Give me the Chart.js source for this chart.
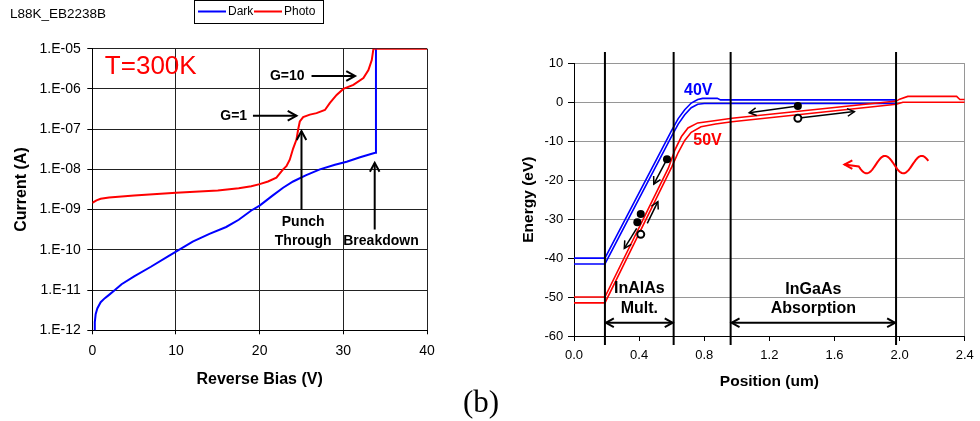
<!DOCTYPE html>
<html>
<head>
<meta charset="utf-8">
<script src="https://cdn.jsdelivr.net/npm/chart.js@4.4.1/dist/chart.umd.min.js"></script>
<style>
body { margin: 0; background: #fff; }
#wrap { position: relative; width: 980px; height: 421px; overflow: hidden; }
#wrap canvas { position: absolute; top: 0; }
#caption { position: absolute; left: 481px; top: 386px; transform: translateX(-50%);
  font: 31px "Liberation Serif", "DejaVu Serif", serif; line-height: 31px; color: #000; }
</style>
</head>
<body>
<div id="wrap">
  <canvas id="ivChart" width="450" height="421" style="left:0"></canvas>
  <canvas id="bandChart" width="510" height="421" style="left:470px"></canvas>
  <div id="caption">(b)</div>
</div>
<script>
// ---- I-V curves ----
const sampleName = 'L88K_EB2238B';
const biasTicks = [0, 10, 20, 30, 40];
const currentTicks = [1e-12, 1e-11, 1e-10, 1e-9, 1e-8, 1e-7, 1e-6, 1e-5];

const darkBias = [0.25, 0.3, 0.4, 0.6, 1.0, 1.5, 2.0, 2.7, 3.5, 5.0, 7.0, 9.0, 10.2, 12.0, 14.0,
  16.0, 17.5, 19.0, 20.0, 21.5, 22.8, 24.0, 25.5, 27.2, 29.0, 30.4, 32.0, 33.8, 33.9, 34.0];
const darkCurrent = [1.0e-12, 1.6e-12, 2.5e-12, 3.5e-12, 5.0e-12, 6.3e-12, 7.6e-12, 1.0e-11, 1.4e-11,
  2.2e-11, 3.8e-11, 6.8e-11, 9.5e-11, 1.6e-10, 2.5e-10, 3.7e-10, 5.6e-10, 9.5e-10, 1.26e-9, 2.2e-9,
  3.5e-9, 5.0e-9, 7.1e-9, 1.0e-8, 1.3e-8, 1.55e-8, 2.0e-8, 2.6e-8, 1.0e-5, 1.0e-5];

const photoBias = [0, 0.5, 1.0, 2.0, 5.0, 10.0, 15.0, 17.5, 19.0, 20.0, 21.0, 22.0, 22.8, 23.2, 23.6,
  24.0, 24.4, 24.6, 24.8, 25.2, 26.0, 26.8, 27.8, 28.4, 29.2, 30.0, 31.2, 32.4, 33.0, 33.4, 33.6, 40];
const photoCurrent = [1.48e-9, 1.7e-9, 1.86e-9, 2.0e-9, 2.24e-9, 2.63e-9, 3.0e-9, 3.4e-9, 3.8e-9,
  4.3e-9, 5.0e-9, 6.2e-9, 1.0e-8, 1.2e-8, 1.74e-8, 3.3e-8, 5.5e-8, 9.8e-8, 1.55e-7, 2.0e-7, 2.3e-7,
  2.5e-7, 3.0e-7, 4.5e-7, 7.1e-7, 1.0e-6, 1.26e-6, 1.86e-6, 2.95e-6, 5.2e-6, 1.0e-5, 1.0e-5];

// ---- band diagram ----
const positionTicks = [0, 0.4, 0.8, 1.2, 1.6, 2.0, 2.4];
const energyTicks = [-60, -50, -40, -30, -20, -10, 0, 10];

const pos40Upper = [0, 0.19, 0.6, 0.64, 0.68, 0.72, 0.76, 0.79, 0.88, 0.9, 1.98];
const e40Upper = [-40, -40, -7.2, -4.2, -1.9, -0.2, 0.7, 1.0, 1.0, 0.6, 0.6];
const pos40Lower = [0, 0.19, 0.6, 0.64, 0.68, 0.72, 0.76, 0.8, 1.98];
const e40Lower = [-41.5, -41.5, -8.7, -5.6, -3.2, -1.4, -0.5, -0.3, -0.3];
const pos50Upper = [0, 0.19, 0.58, 0.62, 0.66, 0.7, 0.76, 0.85, 0.97, 1.98, 2.0, 2.05, 2.35, 2.37, 2.4];
const e50Upper = [-50, -50, -16.85, -12.2, -8.8, -6.6, -5.3, -4.8, -4.1, 0.3, 0.8, 1.5, 1.5, 0.7, 0.7];
const pos50Lower = [0, 0.19, 0.6, 0.64, 0.68, 0.72, 0.78, 0.87, 0.97, 1.98, 2.02, 2.4];
const e50Lower = [-51.5, -51.5, -16.65, -12.9, -9.8, -7.7, -6.3, -5.6, -5.0, -0.5, 0, 0];

const regionEdges = [0.19, 0.612, 0.962, 1.978];
const edgeSpan = [12.9, -62.3];

const electronPos = [1.375, 0.571, 0.41, 0.389];
const electronE = [-0.95, -14.6, -28.7, -30.8];
const holePos = [1.375, 0.41];
const holeE = [-4.1, -33.9];
// x0, e0 -> x1, e1
const carrierArrows = [
  [1.375, -0.95, 1.076, -2.68],
  [1.397, -4.0, 1.722, -2.4],
  [0.571, -14.6, 0.49, -21.0],
  [0.385, -32.4, 0.309, -37.5],
  [0.45, -31.1, 0.515, -25.5]
];
const photonX = [2.176, 1.747, 1.661];
const photonE = -16.0;

const FONT = '"Liberation Sans", Arial, sans-serif';
Chart.defaults.font.family = FONT;
Chart.defaults.color = '#000';

function toPoints(xs, ys) {
  return xs.map((v, i) => ({x: v, y: ys[i]}));
}

function arrowHead(ctx, x1, y1, x2, y2, len) {
  const a = Math.atan2(y2 - y1, x2 - x1);
  ctx.beginPath();
  ctx.moveTo(x2 - len * Math.cos(a - 0.5), y2 - len * Math.sin(a - 0.5));
  ctx.lineTo(x2, y2);
  ctx.lineTo(x2 - len * Math.cos(a + 0.5), y2 - len * Math.sin(a + 0.5));
  ctx.stroke();
}

function arrow(ctx, x1, y1, x2, y2, len, both) {
  ctx.beginPath();
  ctx.moveTo(x1, y1);
  ctx.lineTo(x2, y2);
  ctx.stroke();
  arrowHead(ctx, x1, y1, x2, y2, len);
  if (both) arrowHead(ctx, x2, y2, x1, y1, len);
}

function decadeLabel(v) {
  const e = Math.round(Math.log10(v));
  return '1.E' + (e < 0 ? '-' : '+') + String(Math.abs(e)).padStart(2, '0');
}

const ivNotes = {
  id: 'ivNotes',
  afterDraw(chart) {
    const {ctx, scales: {x, y}} = chart;
    ctx.save();
    ctx.fillStyle = '#000';
    ctx.textBaseline = 'middle';
    ctx.textAlign = 'left';
    ctx.font = '13.5px ' + FONT;
    ctx.fillText(sampleName, 10, 14);

    // legend box
    ctx.strokeStyle = '#000';
    ctx.lineWidth = 1;
    ctx.strokeRect(194.5, 0.5, 129, 23);
    ctx.font = '12px ' + FONT;
    let lx = 198;
    chart.data.datasets.forEach(ds => {
      ctx.strokeStyle = ds.borderColor;
      ctx.lineWidth = 2;
      ctx.beginPath();
      ctx.moveTo(lx, 11.5);
      ctx.lineTo(lx + 28, 11.5);
      ctx.stroke();
      ctx.fillText(ds.label, lx + 30, 11.5);
      lx += 56;
    });

    ctx.fillStyle = '#ff0000';
    ctx.font = '26px ' + FONT;
    ctx.fillText('T=300K', x.getPixelForValue(1.5), y.getPixelForValue(3.5e-6));

    ctx.fillStyle = '#000';
    ctx.strokeStyle = '#000';
    ctx.lineWidth = 2;
    ctx.font = 'bold 14px ' + FONT;
    ctx.textAlign = 'center';
    ctx.fillText('G=10', x.getPixelForValue(23.3), y.getPixelForValue(2.1e-6));
    arrow(ctx, x.getPixelForValue(26.2), y.getPixelForValue(2.1e-6), x.getPixelForValue(31.4), y.getPixelForValue(2.1e-6), 10);
    ctx.fillText('G=1', x.getPixelForValue(16.9), y.getPixelForValue(2.15e-7));
    arrow(ctx, x.getPixelForValue(19.2), y.getPixelForValue(2.15e-7), x.getPixelForValue(24.4), y.getPixelForValue(2.15e-7), 10);

    arrow(ctx, x.getPixelForValue(25.0), y.getPixelForValue(1.0e-9), x.getPixelForValue(25.0), y.getPixelForValue(8.9e-8), 10);
    ctx.fillText('Punch', x.getPixelForValue(25.2), y.getPixelForValue(4.8e-10));
    ctx.fillText('Through', x.getPixelForValue(25.2), y.getPixelForValue(1.66e-10));
    arrow(ctx, x.getPixelForValue(33.75), y.getPixelForValue(3.2e-10), x.getPixelForValue(33.75), y.getPixelForValue(1.45e-8), 10);
    ctx.fillText('Breakdown', x.getPixelForValue(34.5), y.getPixelForValue(1.66e-10));
    ctx.restore();
  }
};

new Chart(document.getElementById('ivChart'), {
  type: 'line',
  data: {
    datasets: [
      {label: 'Dark', data: toPoints(darkBias, darkCurrent), borderColor: '#0000ff', borderWidth: 2, pointRadius: 0, order: 1},
      {label: 'Photo', data: toPoints(photoBias, photoCurrent), borderColor: '#ff0000', borderWidth: 2, pointRadius: 0, order: 0}
    ]
  },
  options: {
    responsive: false,
    animation: false,
    devicePixelRatio: 1,
    layout: {padding: {left: 0, top: 48.7, right: 23, bottom: 0}},
    plugins: {legend: {display: false}, tooltip: {enabled: false}},
    scales: {
      x: {
        type: 'linear', min: 0, max: 40,
        afterBuildTicks: s => { s.ticks = biasTicks.map(v => ({value: v})); },
        afterFit: s => { s.height = 90.7; },
        grid: {color: '#222', lineWidth: 1, tickLength: 4, tickColor: '#000'},
        border: {color: '#000', width: 1},
        ticks: {font: {size: 14}, padding: 8.3, maxRotation: 0, autoSkip: false},
        title: {display: true, text: 'Reverse Bias (V)', font: {size: 16, weight: 'bold'}, padding: {top: 0, bottom: 31.4}}
      },
      y: {
        type: 'logarithmic', min: 1e-12, max: 1e-5,
        afterBuildTicks: s => { s.ticks = currentTicks.map(v => ({value: v})); },
        afterFit: s => { s.width = 92.3; },
        grid: {color: '#222', lineWidth: 1, tickLength: 5, tickColor: '#000'},
        border: {color: '#000', width: 1},
        ticks: {font: {size: 14}, padding: 6.6, autoSkip: false, callback: v => decadeLabel(v)},
        title: {display: true, text: 'Current (A)', font: {size: 16, weight: 'bold'}, padding: {top: 12.1, bottom: 0}}
      }
    }
  },
  plugins: [ivNotes]
});

const bandNotes = {
  id: 'bandNotes',
  afterDatasetsDraw(chart) {
    const {ctx, scales: {x, y}} = chart;
    const xp = v => x.getPixelForValue(v);
    const yp = v => y.getPixelForValue(v);
    ctx.save();
    ctx.textAlign = 'center';
    ctx.textBaseline = 'middle';

    // bias labels
    ctx.font = 'bold 16px ' + FONT;
    ctx.fillStyle = '#0000ff';
    ctx.fillText('40V', xp(0.763), yp(2.9));
    ctx.fillStyle = '#ff0000';
    ctx.fillText('50V', xp(0.82), yp(-9.9));

    // regions
    ctx.fillStyle = '#000';
    ctx.strokeStyle = '#000';
    ctx.lineWidth = 2;
    const mult = (regionEdges[0] + regionEdges[1]) / 2;
    const abs = (regionEdges[2] + regionEdges[3]) / 2;
    ctx.fillText('InAlAs', xp(mult), yp(-47.9));
    ctx.fillText('Mult.', xp(mult), yp(-52.9));
    ctx.fillText('InGaAs', xp(abs), yp(-48.2));
    ctx.fillText('Absorption', xp(abs), yp(-52.9));
    arrow(ctx, xp(regionEdges[0]) + 1, yp(-56.6), xp(regionEdges[1]) - 1, yp(-56.6), 9, true);
    arrow(ctx, xp(regionEdges[2]) + 1, yp(-56.6), xp(regionEdges[3]) - 1, yp(-56.6), 9, true);

    // carrier motion
    ctx.lineWidth = 1.5;
    carrierArrows.forEach(a => arrow(ctx, xp(a[0]), yp(a[1]), xp(a[2]), yp(a[3]), 8));

    // incoming photon
    ctx.strokeStyle = '#ff0000';
    ctx.lineWidth = 2;
    const xr = xp(photonX[0]), xw = xp(photonX[1]), xt = xp(photonX[2]), yc = yp(photonE);
    ctx.beginPath();
    for (let px = xr; px >= xw; px -= 0.5) {
      const py = yc - 8.7 * Math.cos(2 * Math.PI * (xr - px) / 36.7 - 1.13);
      if (px === xr) ctx.moveTo(px, py); else ctx.lineTo(px, py);
    }
    ctx.lineTo(xt, yc);
    ctx.stroke();
    arrowHead(ctx, xw, yc, xt, yc, 9);
    ctx.restore();
  }
};

const bandDatasets = [
  {data: toPoints(pos40Upper, e40Upper), borderColor: '#0000ff', order: 3},
  {data: toPoints(pos40Lower, e40Lower), borderColor: '#0000ff', order: 3},
  {data: toPoints(pos50Upper, e50Upper), borderColor: '#ff0000', order: 2},
  {data: toPoints(pos50Lower, e50Lower), borderColor: '#ff0000', order: 2}
].map(d => Object.assign(d, {borderWidth: 1.6, pointRadius: 0}));

regionEdges.forEach(e => bandDatasets.push({
  data: toPoints([e, e], edgeSpan), borderColor: '#000', borderWidth: 2, pointRadius: 0, clip: false, order: 1
}));
bandDatasets.push({
  data: toPoints(electronPos, electronE), showLine: false, pointRadius: 4,
  pointBackgroundColor: '#000', pointBorderColor: '#000', pointBorderWidth: 0, order: 0
});
bandDatasets.push({
  data: toPoints(holePos, holeE), showLine: false, pointRadius: 3.5,
  pointBackgroundColor: '#fff', pointBorderColor: '#000', pointBorderWidth: 2, order: 0
});

new Chart(document.getElementById('bandChart'), {
  type: 'line',
  data: {datasets: bandDatasets},
  options: {
    responsive: false,
    animation: false,
    devicePixelRatio: 1,
    layout: {padding: {left: 0, top: 63.3, right: 9.7, bottom: 0}},
    plugins: {legend: {display: false}, tooltip: {enabled: false}},
    scales: {
      x: {
        type: 'linear', min: 0, max: 2.4,
        afterBuildTicks: s => { s.ticks = positionTicks.map(v => ({value: v})); },
        afterFit: s => { s.height = 85; },
        grid: {color: c => (c.tick && c.tick.value > 2.39 ? '#969696' : 'rgba(0,0,0,0)'), tickLength: 5, tickColor: '#000'},
        border: {color: '#000', width: 1},
        ticks: {font: {size: 13}, padding: 6.2, maxRotation: 0, autoSkip: false, callback: v => v.toFixed(1)},
        title: {display: true, text: 'Position (um)', font: {size: 15.5, weight: 'bold'}, padding: {top: 0, bottom: 30.3}}
      },
      y: {
        type: 'linear', min: -60, max: 10,
        afterBuildTicks: s => { s.ticks = energyTicks.map(v => ({value: v})); },
        afterFit: s => { s.width = 104; },
        grid: {color: '#969696', tickLength: 6, tickColor: '#000'},
        border: {color: '#000', width: 1},
        ticks: {font: {size: 13}, padding: 4.7, autoSkip: false},
        title: {display: true, text: 'Energy (eV)', font: {size: 15.5, weight: 'bold'}, padding: {top: 49, bottom: 0}}
      }
    }
  },
  plugins: [bandNotes]
});
</script>
</body>
</html>
